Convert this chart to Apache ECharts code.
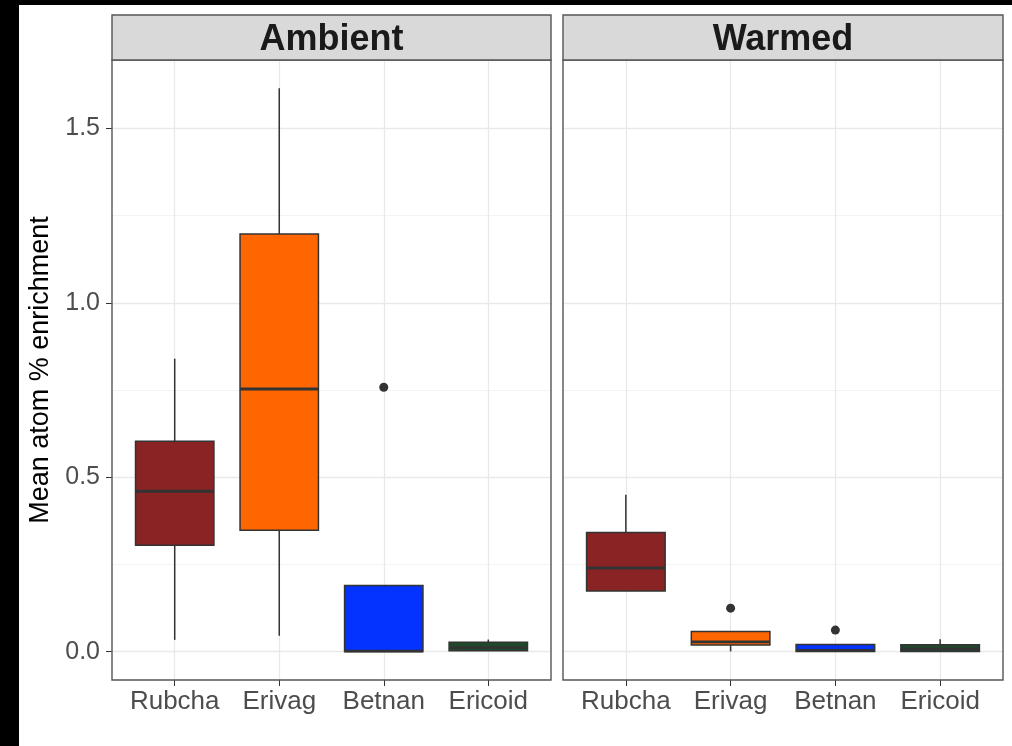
<!DOCTYPE html>
<html>
<head>
<meta charset="utf-8">
<script src="https://cdn.jsdelivr.net/npm/echarts@6/dist/echarts.min.js"></script>
<style>
  html, body { margin: 0; padding: 0; background: #ffffff; }
  #chart { width: 1012px; height: 746px; }
</style>
</head>
<body>
<div id="chart"></div>
<script>
// Taxa on the x axis (same order in both panels)
const categories = ['Rubcha', 'Erivag', 'Betnan', 'Ericoid'];
const panelTitles = ['Ambient', 'Warmed'];
const taxonColors = ['#8a2323', '#ff6600', '#0433ff', '#1e4a2c'];

// Box statistics per taxon: [lower whisker, Q1, median, Q3, upper whisker]
const ambientBoxes = [
  [0.034, 0.305, 0.460, 0.603, 0.840],
  [0.046, 0.348, 0.753, 1.197, 1.615],
  [0.000, 0.001, 0.002, 0.190, 0.190],
  [0.002, 0.003, 0.012, 0.027, 0.035]
];
const warmedBoxes = [
  [0.174, 0.174, 0.240, 0.342, 0.450],
  [0.001, 0.019, 0.028, 0.058, 0.058],
  [0.000, 0.001, 0.004, 0.021, 0.021],
  [0.000, 0.001, 0.008, 0.020, 0.036]
];

// Outlying points: [taxon, value]
const ambientOutliers = [['Betnan', 0.758]];
const warmedOutliers = [['Erivag', 0.125], ['Betnan', 0.062]];

// Axis ticks
const yMajorTicks = [0, 0.5, 1.0, 1.5];
const yMinorTicks = [0.25, 0.75, 1.25];
const yMin = -0.081, yMax = 1.696;

const INK = '#333333';
const GRID_MAJOR = '#e9e9e9';
const GRID_MINOR = '#f3f3f3';
const FONT = '"Liberation Sans", Arial, Helvetica, sans-serif';

// Taxa sit at positions 0..n-1 on a numeric x scale, padded by 0.6 on each side
const xPositions = categories.map((c, i) => i);
const xMin = -0.6, xMax = categories.length - 1 + 0.6;

function boxRows(stats) {
  return stats.map((s, i) => [i].concat(s));
}

function outlierRows(list) {
  return list.map(([taxon, v]) => [categories.indexOf(taxon), v]);
}

function renderBox(params, api) {
  const idx = api.value(0);
  const lo = api.coord([idx, api.value(1)]);
  const q1 = api.coord([idx, api.value(2)]);
  const med = api.coord([idx, api.value(3)]);
  const q3 = api.coord([idx, api.value(4)]);
  const hi = api.coord([idx, api.value(5)]);
  const w = api.size([1, 0])[0] * 0.75;
  const cx = q1[0];
  return {
    type: 'group',
    children: [
      { type: 'line', shape: { x1: cx, y1: lo[1], x2: cx, y2: q1[1] },
        style: { stroke: INK, lineWidth: 1.5 } },
      { type: 'line', shape: { x1: cx, y1: q3[1], x2: cx, y2: hi[1] },
        style: { stroke: INK, lineWidth: 1.5 } },
      { type: 'rect', shape: { x: cx - w / 2, y: q3[1], width: w, height: q1[1] - q3[1] },
        style: { fill: taxonColors[idx], stroke: INK, lineWidth: 1.5 } },
      { type: 'line', shape: { x1: cx - w / 2, y1: med[1], x2: cx + w / 2, y2: med[1] },
        style: { stroke: INK, lineWidth: 2.8 } }
    ]
  };
}

const grids = [
  { left: 112, right: 461, top: 60, bottom: 66 },
  { left: 563, right: 9, top: 60, bottom: 66 }
];

const chart = echarts.init(document.getElementById('chart'), null, { renderer: 'canvas' });

const xAxes = grids.map((g, i) => ({
  type: 'value',
  gridIndex: i,
  min: xMin,
  max: xMax,
  axisLine: { show: false, onZero: false },
  axisTick: { show: true, length: 6, lineStyle: { color: INK, width: 1 }, customValues: xPositions },
  axisLabel: {
    color: '#4d4d4d', fontSize: 26, fontFamily: FONT, margin: 9,
    customValues: xPositions,
    formatter: v => categories[Math.round(v)] || ''
  },
  splitLine: { show: false }
}));

const yAxes = grids.map((g, i) => ({
  type: 'value',
  gridIndex: i,
  min: yMin,
  max: yMax,
  splitNumber: 4,
  name: i === 0 ? 'Mean atom % enrichment' : '',
  nameLocation: 'middle',
  nameRotate: 90,
  nameGap: 58,
  nameTextStyle: { color: '#000000', fontSize: 27, fontFamily: FONT },
  axisLine: { show: false, onZero: false },
  axisTick: { show: i === 0, length: 6, lineStyle: { color: INK, width: 1 }, customValues: yMajorTicks },
  axisLabel: {
    show: i === 0, color: '#4d4d4d', fontSize: 25, fontFamily: FONT, margin: 12,
    customValues: yMajorTicks,
    formatter: v => v.toFixed(1)
  },
  splitLine: { show: true, lineStyle: { color: GRID_MAJOR, width: 1.3 } }
}));

function gridLineSeries(i) {
  return {
    type: 'line',
    xAxisIndex: i,
    yAxisIndex: i,
    data: [],
    z: 0,
    silent: true,
    markLine: {
      silent: true,
      z: 0,
      symbol: 'none',
      animation: false,
      label: { show: false },
      data: yMinorTicks.map(v => ({ yAxis: v, lineStyle: { color: GRID_MINOR, width: 1, type: 'solid' } }))
        .concat(xPositions.map(x => ({ xAxis: x, lineStyle: { color: GRID_MAJOR, width: 1.3, type: 'solid' } })))
    }
  };
}

const panels = [
  { boxes: ambientBoxes, outliers: ambientOutliers },
  { boxes: warmedBoxes, outliers: warmedOutliers }
];

const series = [];
panels.forEach((p, i) => {
  series.push(gridLineSeries(i));
  series.push({
    type: 'custom',
    xAxisIndex: i,
    yAxisIndex: i,
    z: 3,
    renderItem: renderBox,
    encode: { x: 0, y: [1, 2, 3, 4, 5] },
    data: boxRows(p.boxes)
  });
  series.push({
    type: 'scatter',
    xAxisIndex: i,
    yAxisIndex: i,
    z: 4,
    symbol: 'circle',
    symbolSize: 9,
    itemStyle: { color: INK, opacity: 1 },
    data: outlierRows(p.outliers)
  });
});

// Facet strips above each panel and the dark frame edges
const W = 1012, H = 746;
const graphics = [
  { type: 'rect', shape: { x: 0, y: 0, width: 19, height: H }, style: { fill: '#000' }, z: 100 },
  { type: 'rect', shape: { x: 0, y: 0, width: W, height: 5 }, style: { fill: '#000' }, z: 100 }
];
grids.forEach((g, i) => {
  const x0 = g.left, x1 = W - g.right;
  graphics.push({
    type: 'rect',
    shape: { x: x0, y: 15, width: x1 - x0, height: 45 },
    style: { fill: '#d9d9d9', stroke: '#555555', lineWidth: 1.4 },
    z: 50
  });
  graphics.push({
    type: 'text',
    x: (x0 + x1) / 2,
    y: 40,
    style: {
      text: panelTitles[i], fill: '#1a1a1a', font: 'bold 36px ' + FONT,
      textAlign: 'center', textVerticalAlign: 'middle'
    },
    z: 51
  });
});

chart.setOption({
  animation: false,
  backgroundColor: '#ffffff',
  grid: grids.map(g => Object.assign({ show: true, borderColor: '#555555', borderWidth: 1.4, backgroundColor: 'transparent', z: 5 }, g)),
  xAxis: xAxes,
  yAxis: yAxes,
  series: series,
  graphic: graphics
});
</script>
</body>
</html>
